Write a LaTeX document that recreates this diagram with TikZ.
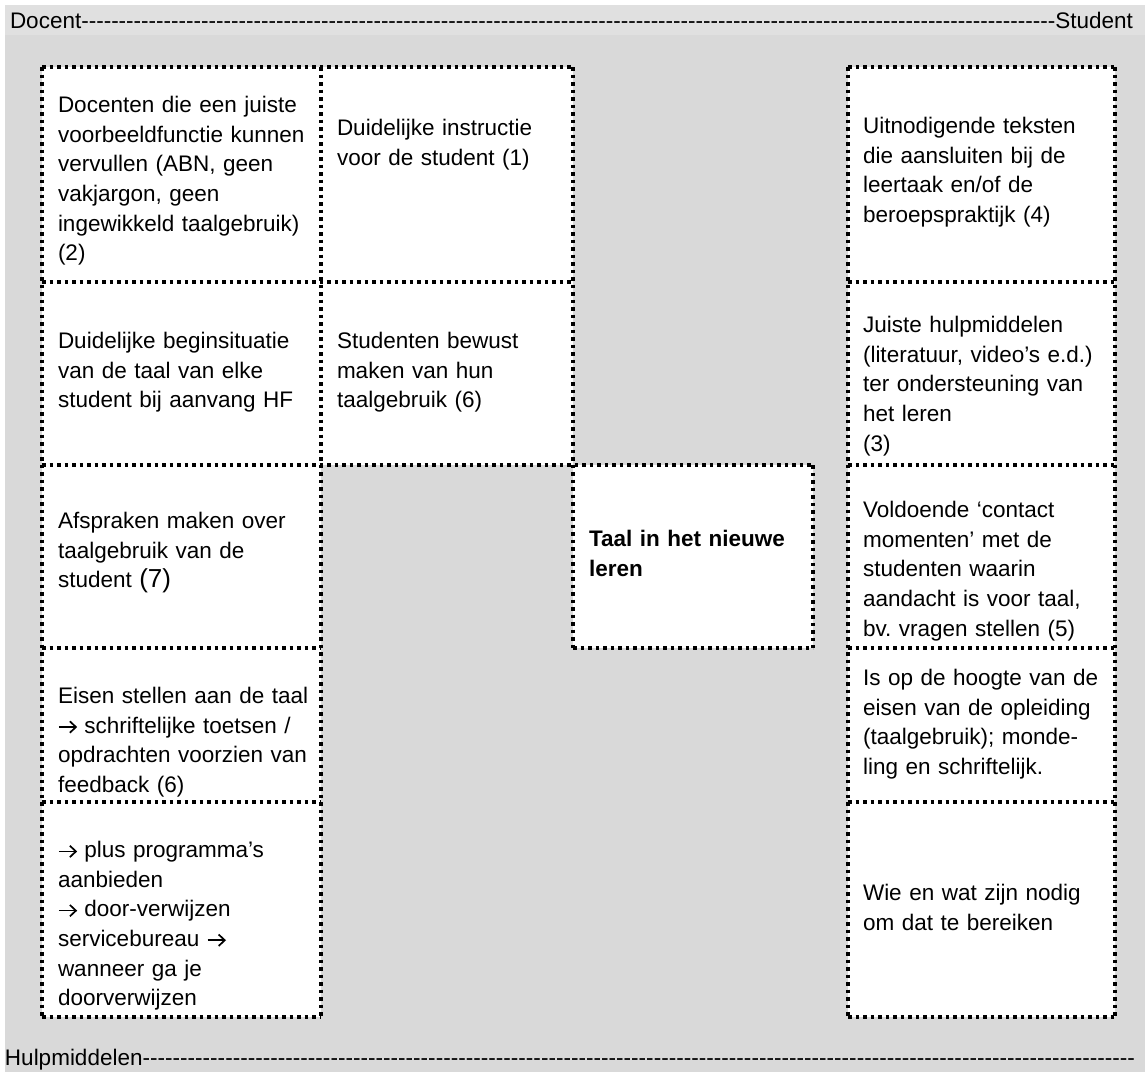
\documentclass[tikz,border=0pt]{standalone}
\usepackage{fontspec}
\setmainfont{Liberation Sans}
\newcommand\rarr{\tikz[baseline=0pt]{\path (0pt,0pt) rectangle (18.5pt,13pt);
  \draw[line width=1.7pt, line cap=butt] (0.5pt,6.3pt) -- (17pt,6.3pt);
  \draw[line width=1.7pt, line join=miter] (11.5pt,0.6pt) -- (17.6pt,6.3pt) -- (11.5pt,12pt);}}
\frenchspacing
\definecolor{bgmain}{RGB}{217,217,217}
\definecolor{bghead}{RGB}{224,224,224}
\begin{document}
\begin{tikzpicture}[x=1pt,y=-1pt,
  cell/.style={fill=white, draw=none, inner sep=0pt, outer sep=0pt, anchor=north west},
  border/.style={line width=3.5pt, dash pattern=on 3.5pt off 4pt, line cap=butt},
  txt/.style={anchor=north west, inner sep=0pt, outer sep=0pt, align=left, text width=275pt,
    font=\fontsize{22.5}{29.6}\selectfont},
  band/.style={inner sep=0pt, outer sep=0pt, anchor=base west, font=\fontsize{22.5}{27}\selectfont}]
\useasboundingbox (0,0) rectangle (1145,1072);
% backgrounds
\fill[bgmain] (5,35) rectangle (1145,1072);
\fill[bghead] (5,5) rectangle (1145,35);
% header / footer
\node[band] (hdr) at (10,28) {\hbox to 1123pt{Docent\xleaders\hbox{-}\hfill Student}};
\node[band] (ftr) at (5,1065) {\hbox to 1130pt{Hulpmiddelen\xleaders\hbox{-}\hfill}};
% cells
\node[cell, minimum width=279pt, minimum height=215pt] (L1) at (42,67) {};
\node[cell, minimum width=279pt, minimum height=183pt] (L2) at (42,282) {};
\node[cell, minimum width=279pt, minimum height=183pt] (L3) at (42,465) {};
\node[cell, minimum width=279pt, minimum height=154pt] (L4) at (42,648) {};
\node[cell, minimum width=279pt, minimum height=215pt] (L5) at (42,802) {};
\node[cell, minimum width=252pt, minimum height=215pt] (M1) at (321,67) {};
\node[cell, minimum width=252pt, minimum height=183pt] (M2) at (321,282) {};
\node[cell, minimum width=240pt, minimum height=183pt] (C) at (573,465) {};
\node[cell, minimum width=267pt, minimum height=215pt] (R1) at (848,67) {};
\node[cell, minimum width=267pt, minimum height=183pt] (R2) at (848,282) {};
\node[cell, minimum width=267pt, minimum height=183pt] (R3) at (848,465) {};
\node[cell, minimum width=267pt, minimum height=154pt] (R4) at (848,648) {};
\node[cell, minimum width=267pt, minimum height=215pt] (R5) at (848,802) {};
% borders: left block
\draw[border] (L1.north west) -- (M1.north east);
\draw[border] (L2.north west) -- (M2.north east);
\draw[border] (L3.north west) -- (C.north east);
\draw[border] (L4.north west) -- (L4.north east);
\draw[border] (L5.north west) -- (L5.north east);
\draw[border] (L5.south west) -- (L5.south east);
\draw[border] (L1.north west) -- (L5.south west);
\draw[border] (L1.north east) -- (L5.south east);
\draw[border] (M1.north east) -- (C.south west);
\draw[border] (C.north east) -- (C.south east);
\draw[border] (C.south west) -- (C.south east);
% borders: right column
\draw[border] (R1.north west) -- (R1.north east);
\draw[border] (R2.north west) -- (R2.north east);
\draw[border] (R3.north west) -- (R3.north east);
\draw[border] (R4.north west) -- (R4.north east);
\draw[border] (R5.north west) -- (R5.north east);
\draw[border] (R5.south west) -- (R5.south east);
\draw[border] (R1.north west) -- (R5.south west);
\draw[border] (R1.north east) -- (R5.south east);
% texts
\node[txt] (tL1) at (58,92) {\strut Docenten die een juiste\\voorbeeldfunctie kunnen\\vervullen (ABN, geen\\vakjargon, geen\\ingewikkeld taalgebruik)\\(2)};
\node[txt] (tL2) at (58,328) {\strut Duidelijke beginsituatie\\van de taal van elke\\student bij aanvang HF};
\node[txt] (tL3) at (58,508) {\strut Afspraken maken over\\taalgebruik van de\\student {\fontsize{26}{29.6}\selectfont(7)}};
\node[txt] (tL4) at (58,683) {\strut Eisen stellen aan de taal\\\rarr{} schriftelijke toetsen /\\opdrachten voorzien van\\feedback (6)};
\node[txt] (tL5) at (58,837) {\strut\rarr{} plus programma’s\\aanbieden\\\rarr{} door-verwijzen\\servicebureau \rarr\\wanneer ga je\\doorverwijzen};
\node[txt] (tM1) at (337,115) {\strut Duidelijke instructie\\voor de student (1)};
\node[txt] (tM2) at (337,328) {\strut Studenten bewust\\maken van hun\\taalgebruik (6)};
\node[txt] (tC) at (589,526) {\strut\bfseries Taal in het nieuwe\\leren};
\node[txt] (tR1) at (863,113) {\strut Uitnodigende teksten\\die aansluiten bij de\\leertaak en/of de\\beroepspraktijk (4)};
\node[txt] (tR2) at (863,312) {\strut Juiste hulpmiddelen\\(literatuur, video’s e.d.)\\ter ondersteuning van\\het leren\\(3)};
\node[txt] (tR3) at (863,497) {\strut Voldoende ‘contact\\momenten’ met de\\studenten waarin\\aandacht is voor taal,\\bv. vragen stellen (5)};
\node[txt] (tR4) at (863,665) {\strut Is op de hoogte van de\\eisen van de opleiding\\(taalgebruik); monde-\\ling en schriftelijk.};
\node[txt] (tR5) at (863,880) {\strut Wie en wat zijn nodig\\om dat te bereiken};
\end{tikzpicture}
\end{document}
